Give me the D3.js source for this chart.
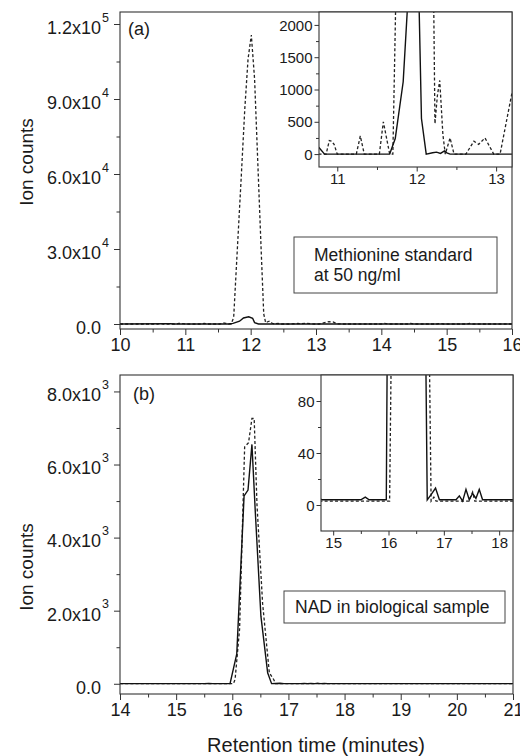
<!DOCTYPE html>
<html>
<head>
<meta charset="utf-8">
<script src="https://cdnjs.cloudflare.com/ajax/libs/d3/7.8.5/d3.min.js"></script>
<style>
body { margin: 0; background: #fff; }
text { font-family: "Liberation Sans", Arial, sans-serif; fill: #1a1a1a; }
</style>
</head>
<body>
<div id="chart-area"></div>
<script>
// (a) methionine standard, [retention time, ion counts]
var metSolid = [[10.0, 0], [10.74, 90], [10.77, 100], [10.84, 0], [11.66, 0], [11.73, 240], [11.83, 1120],
  [11.89, 2400], [11.97, 2900], [12.03, 2300], [12.06, 550], [12.12, 0], [12.2, 20], [12.25, 30],
  [12.3, 10], [12.35, 50], [12.38, 20], [12.42, 0], [16.0, 0]];
var metDashed = [[10.0, 0], [10.58, 0], [10.62, 300], [10.66, 0], [10.86, 0], [10.9, 210], [10.93, 200],
  [10.96, 150], [11.0, 0], [11.24, 0], [11.29, 280], [11.34, 0], [11.53, 0], [11.58, 500], [11.62, 250],
  [11.66, 0], [11.7, 0], [11.74, 2600], [11.79, 27000], [11.85, 56000], [11.91, 86000], [11.96, 106000],
  [12.01, 115600], [12.06, 98000], [12.11, 64000], [12.16, 30000], [12.2, 4000], [12.23, 470],
  [12.26, 900], [12.29, 1140], [12.33, 300], [12.36, 0], [12.42, 250], [12.47, 0], [12.62, 0],
  [12.72, 200], [12.78, 150], [12.86, 250], [12.97, 0], [13.05, 0], [13.2, 950], [13.26, 800],
  [13.32, 100], [13.4, 0], [14.0, 0], [14.05, 250], [14.1, 0], [14.4, 0], [14.45, 250], [14.5, 0],
  [14.85, 0], [14.9, 200], [14.95, 0], [15.3, 0], [15.35, 200], [15.4, 0], [16.0, 0]];

// (b) NAD in biological sample
var nadSolid = [[14.0, 4], [14.75, 5], [14.8, 4], [15.5, 4], [15.58, 6], [15.65, 4], [15.96, 4],
  [16.08, 820], [16.21, 5140], [16.28, 5300], [16.35, 6550], [16.41, 4700], [16.51, 1850],
  [16.63, 300], [16.7, 4], [16.77, 8], [16.85, 13], [16.92, 4], [17.22, 4], [17.28, 7], [17.34, 3],
  [17.4, 12], [17.46, 4], [17.52, 9], [17.58, 5], [17.64, 12], [17.7, 4], [21.0, 4]];
var nadDashed = [[14.0, 3], [16.02, 3], [16.05, 120], [16.13, 1500], [16.22, 6480], [16.29, 6600],
  [16.35, 7260], [16.39, 7260], [16.44, 4900], [16.54, 2200], [16.66, 300], [16.74, 110], [16.77, 3],
  [16.82, 6], [16.86, 3], [17.45, 3], [17.52, 10], [17.56, 3], [21.0, 3]];

var xTicksA = [10, 11, 12, 13, 14, 15, 16];
var yTicksA = [0, 30000, 60000, 90000, 120000];
var xTicksB = [14, 15, 16, 17, 18, 19, 20, 21];
var yTicksB = [0, 2000, 4000, 6000, 8000];
var insetXTicksA = [11, 12, 13];
var insetYTicksA = [0, 500, 1000, 1500, 2000];
var insetXTicksB = [15, 16, 17, 18];
var insetYTicksB = [0, 40, 80];

var svg = d3.select("#chart-area").append("svg").attr("width", 520).attr("height", 756);

var line = function(x, y) {
  return d3.line().x((d) => x(d[0])).y((d) => y(d[1]));
};

var minors = function(ticks, step) {
  var out = [];
  for (var i = 0; i < ticks.length - 1; i++) out.push((ticks[i] + ticks[i + 1]) / 2);
  return out;
};

var sciLabel = function(d) {
  if (d === 0) return ["0.0", ""];
  var e = Math.floor(Math.log10(d));
  return [(d / Math.pow(10, e)).toFixed(1) + "x10", "" + e];
};

var clipId = 0;

function drawPlot(o) {
  var g = svg.append("g");
  var x0 = o.x.range()[0], x1 = o.x.range()[1];
  var y0 = o.y.range()[0], y1 = o.y.range()[1];
  var id = "clip" + (clipId++);
  svg.append("clipPath").attr("id", id).append("rect")
    .attr("x", x0).attr("y", y1).attr("width", x1 - x0).attr("height", y0 - y1);

  if (o.inset) {
    g.append("rect").attr("x", x0).attr("y", y1).attr("width", x1 - x0).attr("height", y0 - y1).attr("fill", "#fff");
  }

  var fs = o.inset ? 15 : 18;

  // minor ticks
  g.append("g").attr("transform", "translate(0," + y0 + ")")
    .call(d3.axisBottom(o.x).tickValues(o.xMinor).tickSize(o.inset ? 3 : 3.5).tickFormat(""))
    .call((s) => s.select(".domain").remove());
  g.append("g").attr("transform", "translate(" + x0 + ",0)")
    .call(d3.axisLeft(o.y).tickValues(o.yMinor).tickSize(o.inset ? 3 : 3.5).tickFormat(""))
    .call((s) => s.select(".domain").remove());

  var xa = g.append("g").attr("transform", "translate(0," + y0 + ")")
    .call(d3.axisBottom(o.x).tickValues(o.xTicks).tickSize(o.inset ? 4.5 : 6).tickPadding(o.inset ? 2 : 3)
      .tickFormat(d3.format("d")));
  xa.select(".domain").remove();
  xa.selectAll("text").attr("font-size", fs).attr("font-family", "Liberation Sans, Arial, sans-serif");

  var ya = g.append("g").attr("transform", "translate(" + x0 + ",0)")
    .call(d3.axisLeft(o.y).tickValues(o.yTicks).tickSize(o.inset ? 4.5 : 6).tickPadding(o.inset ? 2 : 13)
      .tickFormat(o.sci ? (d) => sciLabel(d)[0] : d3.format("d")));
  ya.select(".domain").remove();
  ya.selectAll("text").attr("font-size", fs).attr("font-family", "Liberation Sans, Arial, sans-serif")
    .attr("dy", o.sci ? "0.52em" : "0.34em");
  if (o.sci) {
    ya.selectAll(".tick").append("text")
      .attr("x", -18).attr("y", -3).attr("font-size", 12.5).attr("text-anchor", "start")
      .attr("fill", "#1a1a1a")
      .text((d) => sciLabel(d)[1]);
  }
  g.selectAll(".tick line").attr("stroke", "#333").attr("stroke-width", 1);

  var lines = g.append("g").attr("clip-path", "url(#" + id + ")");
  lines.append("path").datum(o.dashed).attr("d", line(o.x, o.y))
    .attr("fill", "none").attr("stroke", "#222").attr("stroke-width", 1.3).attr("stroke-dasharray", "3,2.2");
  lines.append("path").datum(o.solid).attr("d", line(o.x, o.y))
    .attr("fill", "none").attr("stroke", "#111").attr("stroke-width", 1.4);

  g.append("rect").attr("x", x0).attr("y", y1).attr("width", x1 - x0).attr("height", y0 - y1)
    .attr("fill", "none").attr("stroke", "#333").attr("stroke-width", 1.1);
  return g;
}

// panel (a)
var xA = d3.scaleLinear().domain([10, 16]).range([120, 512]);
var yA = d3.scaleLinear().domain([-2000, 124800]).range([329, 12]);
drawPlot({x: xA, y: yA, xTicks: xTicksA, yTicks: yTicksA, xMinor: minors(xTicksA),
  yMinor: minors(yTicksA), sci: true, solid: metSolid, dashed: metDashed});

var ixA = d3.scaleLinear().domain([10.77, 13.2]).range([319, 512]);
var iyA = d3.scaleLinear().domain([-200, 2200]).range([167, 12]);
drawPlot({x: ixA, y: iyA, xTicks: insetXTicksA, yTicks: insetYTicksA, xMinor: [11.5, 12.5],
  yMinor: minors(insetYTicksA), inset: true, solid: metSolid, dashed: metDashed});

// panel (b)
var xB = d3.scaleLinear().domain([14, 21]).range([120, 513]);
var yB = d3.scaleLinear().domain([-280, 8450]).range([694, 375]);
drawPlot({x: xB, y: yB, xTicks: xTicksB, yTicks: yTicksB, xMinor: minors(xTicksB),
  yMinor: minors(yTicksB), sci: true, solid: nadSolid, dashed: nadDashed});

var ixB = d3.scaleLinear().domain([14.78, 18.25]).range([321, 513]);
var iyB = d3.scaleLinear().domain([-20, 100]).range([531, 375]);
drawPlot({x: ixB, y: iyB, xTicks: insetXTicksB, yTicks: insetYTicksB, xMinor: [15.5, 16.5, 17.5],
  yMinor: [20, 60], inset: true, solid: nadSolid, dashed: nadDashed});

// labels
svg.append("text").attr("x", 128).attr("y", 35).attr("font-size", 18).text("(a)");
svg.append("text").attr("x", 133).attr("y", 400).attr("font-size", 18).text("(b)");

svg.append("text").attr("transform", "translate(33,162) rotate(-90)").attr("text-anchor", "middle")
  .attr("font-size", 19).text("Ion counts");
svg.append("text").attr("transform", "translate(33,567) rotate(-90)").attr("text-anchor", "middle")
  .attr("font-size", 19).text("Ion counts");
svg.append("text").attr("x", 316).attr("y", 752).attr("text-anchor", "middle")
  .attr("font-size", 20).text("Retention time (minutes)");

svg.append("rect").attr("x", 294).attr("y", 237).attr("width", 203).attr("height", 56)
  .attr("fill", "#fff").attr("stroke", "#444").attr("stroke-width", 1);
svg.append("text").attr("x", 314).attr("y", 261).attr("font-size", 17.5).text("Methionine standard");
svg.append("text").attr("x", 314).attr("y", 281).attr("font-size", 17.5).text("at 50 ng/ml");

svg.append("rect").attr("x", 284).attr("y", 591).attr("width", 221).attr("height", 32)
  .attr("fill", "#fff").attr("stroke", "#444").attr("stroke-width", 1);
svg.append("text").attr("x", 295).attr("y", 613).attr("font-size", 17.5).text("NAD in biological sample");
</script>
</body>
</html>
